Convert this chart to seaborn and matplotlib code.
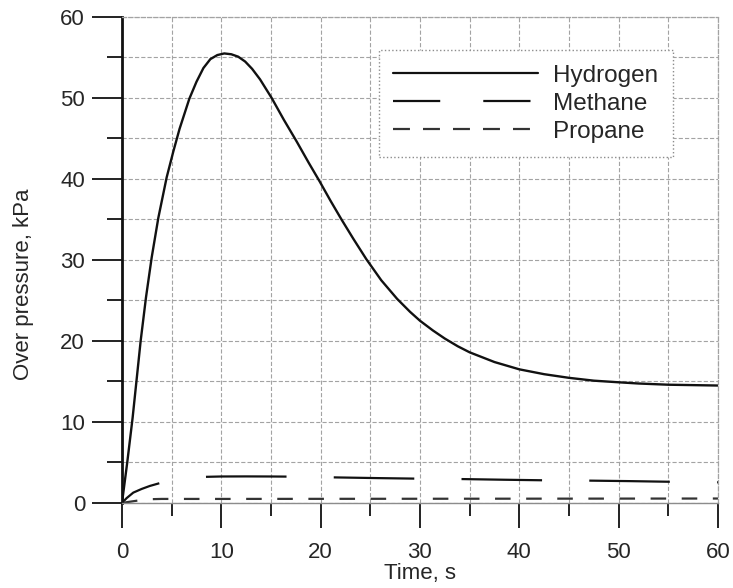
import matplotlib
matplotlib.use('Agg')
import matplotlib.pyplot as plt
from matplotlib.lines import Line2D
import seaborn as sns
import numpy as np

# values
h2_time = [0, 0.53, 1.07, 1.48, 1.88, 2.42, 2.99, 3.66, 4.5, 5.17, 5.8, 6.78, 7.5,
           8.2, 8.9, 9.6, 10.3, 11.0, 11.7, 12.4, 13.1, 13.9, 15.07, 16.3, 17.6,
           18.8, 19.9, 21.0, 22.1, 23.3, 24.6, 26.1, 27.7, 29.0, 30, 31.3, 32.5,
           33.8, 35, 37.5, 40, 42.5, 45, 47.5, 50, 52, 55, 57.5, 60]
h2_pressure = [0, 5, 10.5, 15.3, 20, 25.4, 30.3, 35.2, 40.2, 43.4, 46.2, 49.9, 52,
               53.7, 54.8, 55.3, 55.5, 55.4, 55.1, 54.5, 53.6, 52.3, 50, 47.3, 44.6,
               42.0, 39.7, 37.3, 35, 32.6, 30.1, 27.5, 25.2, 23.6, 22.5, 21.3, 20.3,
               19.35, 18.6, 17.4, 16.5, 15.9, 15.45, 15.1, 14.9, 14.75, 14.6, 14.55, 14.5]

ch4_time = [0, 0.47, 1.14, 1.98, 2.8, 3.8, 5, 6.5, 8.2, 10, 12.5, 15, 17.2, 21.8,
            25.8, 29.9, 34.3, 38.4, 42.5, 47, 51, 55.1, 60]
ch4_pressure = [0, 0.6, 1.28, 1.73, 2.1, 2.45, 2.8, 3.05, 3.22, 3.27, 3.28, 3.27, 3.25, 3.15,
                3.07, 3.0, 2.95, 2.87, 2.8, 2.76, 2.7, 2.62, 2.55]

c3h8_time = [0, 0.5, 1, 1.5, 2, 2.5, 3, 4, 10, 20, 30, 40, 50, 60]
c3h8_pressure = [0, 0.1, 0.19, 0.28, 0.36, 0.43, 0.47, 0.5, 0.5, 0.51, 0.52, 0.53, 0.54, 0.55]

x_ticks = [0, 10, 20, 30, 40, 50, 60]
y_ticks = [0, 10, 20, 30, 40, 50, 60]

sns.set_style('white')
plt.rcParams['font.family'] = ['Liberation Sans', 'DejaVu Sans']
plt.rcParams['lines.scale_dashes'] = False

fig = plt.figure(figsize=(7.33, 5.88), dpi=100)
ax = fig.add_axes([0.1664, 0.1446, 0.8131, 0.8265])

sns.lineplot(x=h2_time, y=h2_pressure, ax=ax, color='#111111', linewidth=1.7)
sns.lineplot(x=ch4_time, y=ch4_pressure, ax=ax, color='#111111', linewidth=1.6)
sns.lineplot(x=c3h8_time, y=c3h8_pressure, ax=ax, color='#333333', linewidth=1.6)
h2_line, ch4_line, c3h8_line = ax.lines[-3:]
h2_line.set_solid_joinstyle('round')
ch4_line.set_linestyle((27, (58, 34)))
c3h8_line.set_linestyle((0, (11.2, 11.2)))

ax.set_xlim(0, 60)
ax.set_ylim(0, 60)
ax.set_xticks(x_ticks)
ax.set_yticks(y_ticks)
ax.set_xticks(np.arange(5, 60, 10), minor=True)
ax.set_yticks(np.arange(5, 60, 10), minor=True)

ax.grid(True, which='both', color='#a3a3a3', linewidth=0.8, linestyle=(0, (3, 1.5)))
ax.set_axisbelow(True)

ax.tick_params(axis='x', which='major', direction='out', length=18, width=1.3,
               color='#111111', labelsize=16, pad=10, bottom=True)
ax.tick_params(axis='x', which='minor', direction='out', length=9, width=1.3,
               color='#111111', bottom=True)
ax.tick_params(axis='y', which='major', direction='out', length=21.6, width=1.3,
               color='#111111', labelsize=16, pad=5, left=True)
ax.tick_params(axis='y', which='minor', direction='out', length=10.5, width=1.3,
               color='#111111', left=True)

ax.spines['left'].set_color('#111111')
ax.spines['left'].set_linewidth(2)
ax.spines['bottom'].set_color('#8c8c8c')
ax.spines['bottom'].set_linewidth(1)
for side in ['top', 'right']:
    ax.spines[side].set_color('#a3a3a3')
    ax.spines[side].set_linewidth(0.9)
    ax.spines[side].set_linestyle((0, (3, 1.5)))

ax.set_xlabel('Time, s', fontsize=16, labelpad=0)
ax.set_ylabel('Over pressure, kPa', fontsize=16)
ax.yaxis.set_label_coords(-0.148, 0.45)

handles = [
    Line2D([], [], color='#111111', linewidth=1.6),
    Line2D([], [], color='#111111', linewidth=1.6, linestyle=(0, (34, 31))),
    Line2D([], [], color='#333333', linewidth=1.6, linestyle=(0, (12.2, 9.4))),
]
leg = ax.legend(handles, ['Hydrogen', 'Methane', 'Propane'],
                loc='upper right', bbox_to_anchor=(0.9245, 0.932), borderaxespad=0,
                fontsize=17.5, handlelength=5.96, handletextpad=0.62,
                labelspacing=0.25, borderpad=0.6, fancybox=False, framealpha=1)
frame = leg.get_frame()
frame.set_edgecolor('#8c8c8c')
frame.set_linestyle(':')
frame.set_linewidth(1)

plt.savefig('out.png', dpi=100)
